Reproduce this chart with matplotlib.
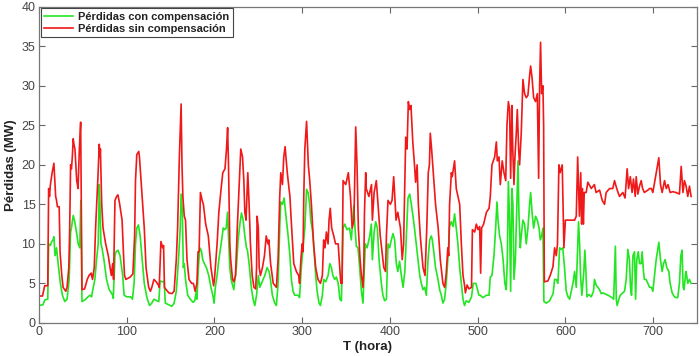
import matplotlib
matplotlib.use("Agg")
import matplotlib.pyplot as plt

# ---- data ----
red_t = [0, 4, 6.5, 10, 11, 12, 13, 15, 17, 19, 20, 21, 23, 24, 26, 27.5, 30.5, 32, 34, 35, 36, 37, 38, 39, 40, 41, 43, 44.5, 46, 47.5,
         49, 52, 55, 57, 59.5, 61, 63, 64.5, 67, 68.7, 69.5, 70, 71.5, 73, 76, 79, 81, 82.5, 84, 85, 86.6, 88.5, 90, 92, 94.7, 96.6, 97.5, 99,
         104, 107, 109, 110, 111.5, 113.7, 114.5, 117, 120, 122, 125, 127, 128.6, 131, 133.6, 136, 137, 139, 141, 142, 143, 145, 148, 151.5,
         154, 156.5, 158, 160, 162, 163, 164, 165.6, 167, 168.7, 171, 174, 176, 178, 180, 181.3, 182.5, 184, 186, 187.4, 190, 193, 196, 199,
         200, 203, 205, 207.6, 209.5, 212, 213.7, 215, 216, 217.5, 218.5, 220.6, 222, 224, 226, 228, 230, 232, 233.5, 234.6, 236, 238, 239.5,
         241, 243, 245, 247, 248, 248.6, 250, 251, 252.4, 254.7, 257, 259, 261, 262, 264, 267, 270.6, 272.5, 274.4, 275.6, 277.5, 279, 280.5,
         283, 286, 288, 290.4, 293.4, 296, 297, 298.5, 300, 301, 301.8, 303, 305, 307, 308.6, 310.5, 313, 315.4, 318, 320.8, 323, 324.5, 326,
         327.6, 329.5, 330.6, 332, 333.6, 336, 338, 341, 344, 345.5, 346.6, 349.6, 352.6, 355, 357, 359, 361, 362.5, 364, 366, 367.5, 369.3,
         370.2, 371, 372.4, 373, 376, 379, 380, 382, 384.5, 386.4, 389, 392, 393, 395, 396, 397.8, 400.5, 402.4, 404.3, 406, 407, 409, 412,
         414, 415.6, 417, 418, 419.5, 421, 422.5, 424, 426, 428, 429.3, 431, 432.4, 434.6, 437.7, 440, 442, 443.7, 445, 446, 447.5, 450, 452,
         455, 457.4, 460.4, 462.3, 464, 466, 467, 468, 470, 471, 473.7, 475.6, 477.5, 479.5, 481.4, 483.3, 485, 486, 488, 490, 493, 494,
         496.6, 498.5, 500.4, 502.3, 503.4, 504.5, 506.8, 510, 513, 514.4, 516.3, 519.4, 521.3, 522.4, 524.3, 525.8, 528, 530, 532, 533.4,
         535, 536.4, 537.6, 539, 540, 541.4, 542.5, 544, 545.2, 546.7, 547.8, 549.7, 551.6, 553.5, 555.4, 557.3, 559.2, 560.4, 562, 563.8,
         566, 568, 569.5, 570.6, 571.7, 572.9, 574.4, 575.2, 576, 580, 582.7, 585.8, 587.7, 589.6, 591, 592.6, 594, 596.4, 598.3, 600, 605,
         610.5, 612.4, 614, 616, 617.5, 618.5, 619.5, 620.5, 621.5, 623.7, 625.6, 629.5, 633, 635, 639, 642, 644.6, 646.5, 650.3, 654, 656,
         658, 660, 661.7, 665.5, 668, 670.4, 672, 674, 676, 677.6, 679.6, 680.7, 682.6, 684.5, 686.4, 688, 690, 694, 696, 698, 699.7, 706.5,
         708.4, 710.3, 713, 715, 717, 719.4, 722.4, 726, 730, 732, 734, 735.7, 737.6, 739.5, 741.4, 743.3]
red_v = [3.4, 3.4, 4.7, 4.7, 17, 16, 17.5, 19, 20.2, 16, 15.5, 14.7, 14.7, 9, 6, 4.5, 4.0, 4.5, 7, 12, 20, 19.5, 21, 23.3, 22.5, 22, 18, 17, 22, 25.4,
         4.2, 4.3, 5.5, 6, 6.3, 5.5, 7, 12, 18, 22.6, 21, 22, 15, 12, 10, 8.5, 7, 6, 7.5, 5.5, 15.5, 16, 16.2, 15, 13, 8, 6, 5.5,
         5.8, 6.2, 11, 18, 21.3, 21.7, 21, 17, 12, 7, 4.5, 4.0, 4.5, 5.5, 5.2, 4.8, 4.5, 10.3, 9.5, 9.8, 4.5, 4.2, 3.8, 3.7,
         4, 8, 12, 21, 27.7, 20, 16, 13.5, 13, 8, 5.5, 5, 5, 4, 5, 9, 9, 16.5, 15.5, 15, 12.5, 11, 7, 4.7,
         5.5, 10, 14, 17, 19, 19.5, 22, 24.7, 20, 10, 8, 5.5, 5.2, 6, 12, 17, 22, 21, 18, 14, 13, 19, 15,
         10, 6, 4.5, 4.3, 7, 13.5, 12, 7, 6, 7, 8.5, 11, 10, 10.5, 7.5, 5, 4.5, 8, 16, 19, 17.5, 21, 22.3,
         19, 16, 12, 7.5, 6.5, 6, 5, 8, 10, 9, 16, 22, 25.5, 20, 18, 15, 10, 7, 5.5, 5, 6, 10.5, 9.5,
         11.5, 10, 13, 14.5, 12, 11, 10, 10, 5, 5, 18, 17.5, 19, 16, 12, 13, 24.8, 20, 12, 8, 6, 4.5,
         7, 14, 19, 17, 16, 17.5, 13, 16.5, 18, 15, 11, 8, 7, 6.5, 11, 15.5, 15, 15.5, 18.5, 15, 13, 14, 12,
         8, 10, 18, 23.5, 22, 28, 27, 27.5, 23, 20, 17.8, 20, 15, 11, 7, 6, 12, 19, 20, 24, 22, 18, 15,
         12, 8, 5, 4.5, 6, 9.5, 8.5, 15, 19, 18.5, 20.5, 17, 16, 15, 10, 6, 4.8, 3.8, 4.8, 4.3, 4.5, 11.8,
         11.5, 12.5, 11.8, 12.2, 6.3, 12, 12.5, 14, 14.5, 16, 20, 21, 22.9, 20.5, 21, 17.5, 20.5, 19, 18, 25,
         28, 27, 18.3, 27.5, 22, 17.5, 21, 24, 27, 22, 20, 24, 30.8, 29, 28.5, 28.8, 31.3, 32.5, 31, 28.5,
         28, 29, 18.3, 30, 35.5, 29, 30, 25, 5.2, 5.3, 6, 7.1, 9.5, 8.5, 10, 20, 19, 20, 9.5, 13, 13,
         13, 13.5, 21, 13.5, 19, 12.5, 17, 12.5, 16.5, 16.5, 17.8, 17, 17.5, 16.5, 16.8, 15.5, 15, 16.5, 17, 17, 18,
         17.2, 16.5, 16, 16.5, 15.8, 19.5, 17, 18.5, 16.5, 18.2, 16, 18.5, 16.3, 17.3, 18, 17, 16.5, 16.8, 17, 17, 16.5, 20.9,
         17.5, 16.5, 18, 17, 17.5, 16.5, 16.6, 16.5, 16.3, 19.8, 16.5, 18, 17.3, 16, 17.3, 16]

green_t = [0, 4.6, 6.5, 10, 11, 13, 14, 16, 17, 18.3, 20, 21.8, 24.4, 26.7, 29.4, 32, 34.4, 36, 37, 39, 40.8, 42.7, 44.7, 46.5, 47.7,
           49, 52.3, 55, 58, 60, 61, 63.7, 65.6, 67.5, 68.7, 69.5, 70.6, 71.8, 74, 77, 80, 82.4, 84, 84.7, 86.6, 87.8, 90, 92.4, 95.4, 97,
           100, 104.6, 106.5, 108.4, 110, 111.5, 113.4, 115.3, 117.6, 120, 123, 126, 128.6, 131, 134.4, 136.6, 138, 140.8, 142.7, 144,
           147.7, 151.5, 154, 156.5, 159, 161, 162, 163.4, 164.5, 165.6, 167, 169.5, 172.5, 175.6, 177.5, 179.4, 180, 181.7, 183.2, 185,
           186.6, 188.5, 190.8, 193.5, 196, 198.5, 199.6, 201, 203, 205, 207.6, 210, 211.5, 213.4, 214.9, 216, 217.5, 219, 222, 225, 227,
           229, 230.8, 232.7, 234.6, 236.5, 237.6, 239.5, 242, 244, 246, 248, 250, 251.7, 253.6, 257.4, 260, 262.3, 263.8, 266, 268.7,
           270.6, 272.5, 274.4, 275.6, 277.5, 279.4, 282, 284, 286, 287.7, 289.6, 291.5, 295.3, 297, 299, 301, 303, 305, 306.7, 308.6,
           309.7, 311.6, 313, 315.4, 317, 319.2, 320.8, 323, 324.5, 326.8, 329.5, 331.4, 333.3, 335, 337, 339, 341, 343, 344.7, 346.6,
           348.5, 351, 354, 356, 358.7, 360.2, 361.7, 363.6, 365.5, 367.5, 369.3, 370.5, 372, 374, 377, 378.8, 380, 382, 383.8, 385.7,
           387.6, 390.2, 392, 394, 396, 397.8, 399.7, 401.6, 403.5, 405.4, 407.3, 409, 411, 413, 415, 417, 418.7, 420.6, 422.5, 424.4,
           426.3, 428, 430, 432, 434, 435.8, 437.7, 439.6, 441.5, 443.4, 445.3, 447.2, 448.3, 450, 452, 454.8, 456.7, 458.6, 460.4, 462.3,
           464.2, 466, 468, 470, 472, 473.7, 475.6, 477.5, 479.5, 481.4, 483.3, 485, 487, 490, 493, 495, 498, 499.2, 501.5, 503, 506,
           510, 513, 514.4, 516.3, 518.6, 520.5, 522, 523.2, 525, 527, 529, 531, 532.6, 533.8, 535, 536.4, 537.6, 539, 540.2, 541.4,
           543, 544, 546, 547, 548.6, 549.7, 551.6, 553.5, 555.4, 557.3, 559.2, 560.4, 562, 563.8, 566, 568, 570, 571.4, 572.9, 574.4,
           575.5, 578.2, 582, 586, 587.7, 589.6, 591.5, 593.4, 595.3, 597, 599, 601, 603, 604.8, 606.7, 608.6, 610.5, 612.4, 613.5, 615,
           616.2, 617.3, 618.8, 621, 622.2, 623.4, 624.5, 626.8, 629.5, 632, 633.2, 635, 637, 639, 640.8, 642.7, 646.5, 650.3, 653, 655,
           657, 658, 659, 661, 662.5, 665.5, 667.4, 669.3, 671.2, 673, 674.2, 675.4, 677, 678.8, 680, 681.4, 683, 684.5, 686.4, 687.5,
           689, 690, 692, 696, 698, 699.7, 701.6, 703.5, 706.5, 708.4, 710.3, 711.8, 713.7, 715.6, 717.9, 719.4, 721.7, 724.3, 726.2,
           728, 730, 731.6, 733, 734.2, 735.3, 737, 737.6, 739.5, 741.4, 743.3]
green_v = [2.2, 2.3, 2.9, 3, 10, 9.8, 10.2, 10.5, 10.9, 8.5, 9.5, 7.5, 5, 3.5, 2.7, 3, 5.5, 11.5, 12, 13.6, 12.8, 11.5, 10, 9.5, 15.5,
           2.7, 2.9, 3.2, 3.5, 3.3, 4, 5.5, 8, 10, 17.5, 15, 10, 9.5, 8, 5.5, 4.2, 3.8, 3.5, 3.1, 8.5, 9, 9.2, 8.5, 6, 3.5,
           3.3, 3.3, 3, 5, 10, 12, 12.4, 11, 8, 5, 3.2, 2.2, 2.5, 3, 2.8, 2.7, 5.3, 5.2, 5.3, 2.5,
           2.3, 2.1, 2.5, 4, 8, 12, 16.3, 14, 7, 7.5, 5.5, 3.5, 3, 2.6, 2.8, 4, 3, 7, 9.5, 9.2,
           8, 7.5, 7, 6, 4.5, 3.3, 2.5, 4.5, 6, 8, 10, 12, 11.8, 12, 14, 11, 7, 5.5, 4.2, 7, 10.5,
           12.5, 13.9, 13, 11, 9.5, 9.2, 7.5, 4.5, 3, 2.2, 3.5, 6, 4.5, 5, 6, 7, 6.5, 5.5, 3.5, 2.5,
           2.2, 5, 12, 15.3, 15, 15.8, 13, 11, 8.5, 5.5, 4, 3.5, 3.5, 3.2, 7, 9.5, 12, 16.9, 16.5, 15,
           13, 11.8, 10, 6, 4, 2.5, 2.2, 3.5, 5.5, 5.2, 6, 7.5, 7, 6, 5.5, 5.8, 5, 3, 2.8, 12,
           12.5, 11.8, 12, 10.5, 14.8, 12, 9.7, 9.5, 7, 4, 2.5, 6, 10, 9.5, 11, 12.5, 8, 11.5, 12.8, 12,
           8, 5, 3.5, 2.8, 3, 10, 9.5, 10.5, 11.3, 10.5, 7.5, 6.5, 7.8, 6, 4.5, 6.5, 11, 15.8, 16.3, 15,
           13.5, 12, 10, 8, 6, 5, 4.2, 4.5, 3.5, 8, 10.5, 11, 10.5, 9, 7, 5.5, 4.2, 3.5, 2.5, 3,
           5, 8, 12.2, 12.8, 12.2, 13.8, 12, 10, 7, 5, 3, 2.2, 2.8, 2.6, 3.3, 5, 5, 4.5, 3.5, 3.5, 3.2,
           3.5, 3.5, 5.8, 6, 8.5, 12, 15.3, 13, 11, 10, 8, 5, 4.2, 8, 17.9, 13, 4, 17, 15, 5.5,
           8, 12, 20.5, 14, 9.5, 11, 13, 12.5, 10, 12, 15, 16.5, 14, 12, 13.5, 13, 12, 10.5, 11, 12,
           2.7, 2.5, 2.8, 3.7, 5.5, 5.5, 5, 9.5, 9.3, 9.5, 7, 4, 3.3, 3, 4, 5, 6.5, 4.5, 8, 12.8,
           10, 6, 3.5, 6.5, 9.2, 6.5, 3.3, 3.6, 3.3, 4, 5.5, 4.8, 4.5, 4.2, 3.7, 3.8, 3.6, 3.4, 3.2, 3,
           9.7, 3, 2.2, 3, 3.5, 3.8, 4, 5.5, 9.3, 8, 4.5, 3.5, 8.5, 9, 3, 8, 9, 7.5, 7.5, 9,
           6.5, 5.5, 5.5, 4.5, 4.5, 4, 6, 8, 10.2, 8, 6.5, 7.5, 8, 7, 6.5, 5, 3.8, 3.3, 3.2,
           3.2, 5, 8.5, 9.2, 4.5, 4.2, 6.2, 6.5, 5, 5.5, 5]

labels = ["Pérdidas con compensación", "Pérdidas sin compensación"]
x_ticks = [0, 100, 200, 300, 400, 500, 600, 700]
y_ticks = [0, 5, 10, 15, 20, 25, 30, 35, 40]

fam = ['Liberation Sans', 'DejaVu Sans']

fig = plt.figure(figsize=(7.0, 3.56), dpi=100)
ax = fig.add_axes([0.0557, 0.093, 0.94, 0.888])

ax.plot(green_t, green_v, color='#22e622', lw=1.2, label=labels[0])
ax.plot(red_t, red_v, color='#f01818', lw=1.2, label=labels[1])

ax.set_xlim(0, 750)
ax.set_ylim(0, 40)
ax.set_xticks(x_ticks)
ax.set_yticks(y_ticks)
ax.tick_params(direction='in', top=True, right=True, length=4, width=0.8,
               color='#666666', labelcolor='#444444', labelsize=9, pad=2.5)
for lab in ax.get_xticklabels() + ax.get_yticklabels():
    lab.set_family(fam)
for s in ax.spines.values():
    s.set_color('#777777')
    s.set_linewidth(0.9)

ax.set_xlabel('T (hora)', family=fam, fontweight='bold', fontsize=9.5, color='#222222', labelpad=2)
ax.set_ylabel('Pérdidas (MW)', family=fam, fontweight='bold', fontsize=9.5, color='#222222', labelpad=3)

leg = ax.legend(loc='upper left', fancybox=False, framealpha=1, edgecolor='#444444',
                borderaxespad=0.15, handlelength=2.6, handletextpad=0.5, labelspacing=0.2, borderpad=0.3,
                prop={'family': fam, 'weight': 'bold', 'size': 8})
leg.get_frame().set_linewidth(0.8)
for t in leg.get_texts():
    t.set_color('#222222')

fig.savefig('out.png', dpi=100)
